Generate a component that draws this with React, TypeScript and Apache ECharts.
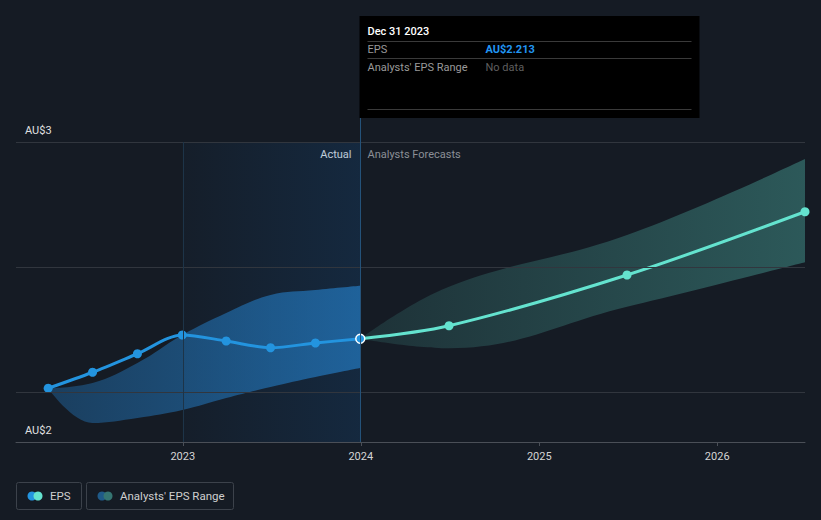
import React, { useEffect, useRef } from 'react';
import * as echarts from 'echarts';

// ---- data ----
const actualDates = ['2022-03-31', '2022-06-30', '2022-09-30', '2022-12-31', '2023-03-31', '2023-06-30', '2023-09-30', '2023-12-31'];
const actualEps = [2.015, 2.079, 2.153, 2.228, 2.204, 2.177, 2.196, 2.213];
const actualLow = [2.015, 1.876, 1.896, 1.928, 1.976, 2.02, 2.06, 2.096];
const actualHigh = [2.015, 2.036, 2.116, 2.228, 2.316, 2.388, 2.408, 2.425];

const forecastDates = ['2023-12-31', '2024-06-30', '2025-06-30', '2026-06-30'];
const forecastEps = [2.213, 2.265, 2.468, 2.721];
const forecastLow = [2.213, 2.175, 2.341, 2.519];
const forecastHigh = [2.213, 2.421, 2.628, 2.932];

const yearTicks = [2023, 2024, 2025, 2026];
const gridValues = [2, 2.5, 3];
const yLabels = ['AU$3', 'AU$2'];
const pastYear = ['2023-01-01', '2023-12-31'];
const xRange = ['2022-01-24', '2026-06-30'];
const yRange = [1.8, 3];

const FONT = 'Roboto';
const BG = '#151b24';
const BLUE = '#2394df';
const TEAL = '#64e3cf';

function ts(d: string) {
  const [y, m, dd] = d.split('-').map(Number);
  return Date.UTC(y, m - 1, dd);
}
function pairs(d: string[], v: number[]) {
  return d.map((x, i) => [ts(x), v[i]]);
}

export default function App() {
  const ref = useRef<HTMLDivElement>(null);
  useEffect(() => {
    const chart = echarts.init(ref.current!, null, { renderer: 'svg' });
    const tickTs = yearTicks.map((y) => Date.UTC(y, 0, 1));
    const lastIdx = actualDates.length - 1;

    const option: any = {
      animation: false,
      backgroundColor: BG,
      textStyle: { fontFamily: FONT },
      grid: { left: 16, right: 16, top: 142, bottom: 78, containLabel: false },
      xAxis: [
        {
          type: 'time',
          min: ts(xRange[0]),
          max: ts(xRange[1]),
          show: false,
        },
        {
          type: 'value',
          position: 'bottom',
          min: ts(xRange[0]),
          max: ts(xRange[1]),
          axisLine: { show: true, lineStyle: { color: '#4a4f57', width: 1 } },
          axisTick: { show: true, length: 4, lineStyle: { color: '#4a4f57' }, customValues: tickTs },
          axisLabel: {
            customValues: tickTs,
            formatter: (v: number) => String(new Date(v).getUTCFullYear()),
            color: '#d4d4d4',
            fontSize: 11,
            fontFamily: FONT,
            margin: 9,
          },
          splitLine: { show: false },
        },
      ],
      yAxis: {
        type: 'value',
        min: yRange[0],
        max: yRange[1],
        axisLabel: { show: false },
        axisLine: { show: false },
        axisTick: { show: false },
        splitLine: { show: false },
      },
      series: [
        {
          name: 'grid',
          type: 'line',
          z: 0,
          silent: true,
          symbol: 'none',
          lineStyle: { opacity: 0 },
          data: pairs(actualDates, actualEps),
          markArea: {
            silent: true,
            itemStyle: {
              color: new echarts.graphic.LinearGradient(0, 0, 1, 0, [
                { offset: 0, color: 'rgba(20,70,120,0.07)' },
                { offset: 1, color: 'rgba(20,70,120,0.32)' },
              ]),
            },
            data: [[{ xAxis: ts(pastYear[0]) }, { xAxis: ts(pastYear[1]) }]],
          },
          markLine: {
            silent: true,
            symbol: 'none',
            label: { show: false },
            lineStyle: { color: '#31363e', width: 1, type: 'solid' },
            data: [
              ...gridValues.map((v) => ({ yAxis: v })),
              { xAxis: ts(pastYear[0]), lineStyle: { color: '#1d3448', type: 'solid', width: 1 } },
              { xAxis: ts(pastYear[1]), lineStyle: { color: '#245279', type: 'solid', width: 1 } },
            ],
          },
        },
        {
          name: 'lowA',
          type: 'line',
          stack: 'a',
          smooth: 0.4,
          symbol: 'none',
          silent: true,
          lineStyle: { opacity: 0 },
          data: pairs(actualDates, actualLow),
          z: 1,
        },
        {
          name: "Analysts' EPS Range",
          type: 'line',
          stack: 'a',
          smooth: 0.4,
          symbol: 'none',
          silent: true,
          lineStyle: { opacity: 0 },
          areaStyle: {
            opacity: 1,
            color: new echarts.graphic.LinearGradient(0, 0, 1, 0, [
              { offset: 0, color: 'rgba(35,120,190,0.38)' },
              { offset: 1, color: 'rgba(35,120,190,0.72)' },
            ]),
          },
          data: pairs(actualDates, actualHigh.map((h, i) => h - actualLow[i])),
          z: 1,
        },
        {
          name: 'lowF',
          type: 'line',
          stack: 'f',
          smooth: 0.4,
          symbol: 'none',
          silent: true,
          lineStyle: { opacity: 0 },
          data: pairs(forecastDates, forecastLow),
          z: 1,
        },
        {
          name: 'rangeF',
          type: 'line',
          stack: 'f',
          smooth: 0.4,
          symbol: 'none',
          silent: true,
          lineStyle: { opacity: 0 },
          areaStyle: {
            opacity: 1,
            color: new echarts.graphic.LinearGradient(0, 0, 1, 0, [
              { offset: 0, color: 'rgba(60,130,125,0.22)' },
              { offset: 1, color: 'rgba(60,130,125,0.6)' },
            ]),
          },
          data: pairs(forecastDates, forecastHigh.map((h, i) => h - forecastLow[i])),
          z: 1,
        },
        {
          name: 'EPS forecast',
          type: 'line',
          smooth: 0.3,
          symbol: 'circle',
          symbolSize: 9,
          itemStyle: { color: TEAL },
          lineStyle: { color: TEAL, width: 3 },
          data: forecastDates.map((d, i) =>
            i === 0 ? { value: [ts(d), forecastEps[i]], symbol: 'none' } : [ts(d), forecastEps[i]]
          ),
          z: 3,
        },
        {
          name: 'EPS',
          type: 'line',
          smooth: 0.3,
          symbol: 'circle',
          symbolSize: 9,
          itemStyle: { color: BLUE },
          lineStyle: { color: BLUE, width: 3 },
          data: actualDates.map((d, i) =>
            i === lastIdx
              ? { value: [ts(d), actualEps[i]], symbolSize: 9, itemStyle: { color: BLUE, borderColor: '#ffffff', borderWidth: 1.5 } }
              : [ts(d), actualEps[i]]
          ),
          z: 4,
        },
      ],
    };
    chart.setOption(option);

    const pt = chart.convertToPixel({ xAxisIndex: 0, yAxisIndex: 0 }, [ts(actualDates[lastIdx]), actualEps[lastIdx]]) as number[];
    const top = chart.convertToPixel({ yAxisIndex: 0 }, yRange[1]) as number;
    const bottom = chart.convertToPixel({ yAxisIndex: 0 }, yRange[0]) as number;
    const dx = Math.round(pt[0]) + 0.5;
    const lastDate = new Date(ts(actualDates[lastIdx]));
    const months = ['Jan', 'Feb', 'Mar', 'Apr', 'May', 'Jun', 'Jul', 'Aug', 'Sep', 'Oct', 'Nov', 'Dec'];
    const dateLabel = `${months[lastDate.getUTCMonth()]} ${lastDate.getUTCDate()} ${lastDate.getUTCFullYear()}`;
    const tipX = dx - 1;
    const tipY = 16;

    const txt = (x: number, y: number, text: string, fill: string, extra: any = {}) => ({
      type: 'text',
      x,
      y,
      silent: true,
      style: { text, fill, font: `11px ${FONT}`, textVerticalAlign: 'middle', ...extra },
    });

    chart.setOption({
      graphic: [
        { type: 'line', silent: true, shape: { x1: dx, y1: tipY, x2: dx, y2: top }, style: { stroke: '#245279', lineWidth: 1 } },
        txt(25, top - 12, yLabels[0], '#e0e0e0'),
        txt(25, bottom - 12, yLabels[1], '#e0e0e0'),
        txt(dx - 9, top + 12, 'Actual', '#ffffff', { textAlign: 'right' }),
        txt(dx + 7, top + 12, 'Analysts Forecasts', '#8b8f96'),
        { type: 'rect', silent: true, shape: { x: tipX, y: tipY, width: 340, height: 102 }, style: { fill: '#000000' } },
        txt(tipX + 8, tipY + 15, dateLabel, '#ffffff', { font: `500 11px ${FONT}` }),
        { type: 'line', silent: true, shape: { x1: tipX + 8, y1: tipY + 25.5, x2: tipX + 332, y2: tipY + 25.5 }, style: { stroke: '#3a3a3a', lineWidth: 1 } },
        txt(tipX + 8, tipY + 33, 'EPS', '#9a9a9a'),
        txt(tipX + 126, tipY + 33, `AU$${actualEps[lastIdx].toFixed(3)}`, '#2196f3', { font: `bold 11px ${FONT}` }),
        { type: 'line', silent: true, shape: { x1: tipX + 8, y1: tipY + 42.5, x2: tipX + 332, y2: tipY + 42.5 }, style: { stroke: '#3a3a3a', lineWidth: 1 } },
        txt(tipX + 8, tipY + 51, "Analysts' EPS Range", '#9a9a9a'),
        txt(tipX + 126, tipY + 51, 'No data', '#5f5f5f'),
        { type: 'line', silent: true, shape: { x1: tipX + 8, y1: tipY + 93.5, x2: tipX + 332, y2: tipY + 93.5 }, style: { stroke: '#3a3a3a', lineWidth: 1 } },
        { type: 'rect', silent: true, shape: { x: 16.5, y: 482.5, width: 65, height: 27, r: 2 }, style: { fill: 'none', stroke: '#3c424b', lineWidth: 1 } },
        { type: 'circle', silent: true, shape: { cx: 32, cy: 496, r: 4.5 }, style: { fill: BLUE } },
        { type: 'circle', silent: true, shape: { cx: 38, cy: 496, r: 4.5 }, style: { fill: TEAL } },
        txt(50, 496, 'EPS', '#cfcfcf', { font: `11.5px ${FONT}` }),
        { type: 'rect', silent: true, shape: { x: 86.5, y: 482.5, width: 147, height: 27, r: 2 }, style: { fill: 'none', stroke: '#3c424b', lineWidth: 1 } },
        { type: 'circle', silent: true, shape: { cx: 102, cy: 496, r: 4.5 }, style: { fill: '#1f5a88' } },
        { type: 'circle', silent: true, shape: { cx: 108, cy: 496, r: 4.5 }, style: { fill: '#357572' } },
        txt(120, 496, "Analysts' EPS Range", '#cfcfcf', { font: `11.5px ${FONT}` }),
      ],
    });

    return () => chart.dispose();
  }, []);

  return <div ref={ref} style={{ position: 'fixed', left: 0, top: 0, width: 821, height: 520 }} />;
}
